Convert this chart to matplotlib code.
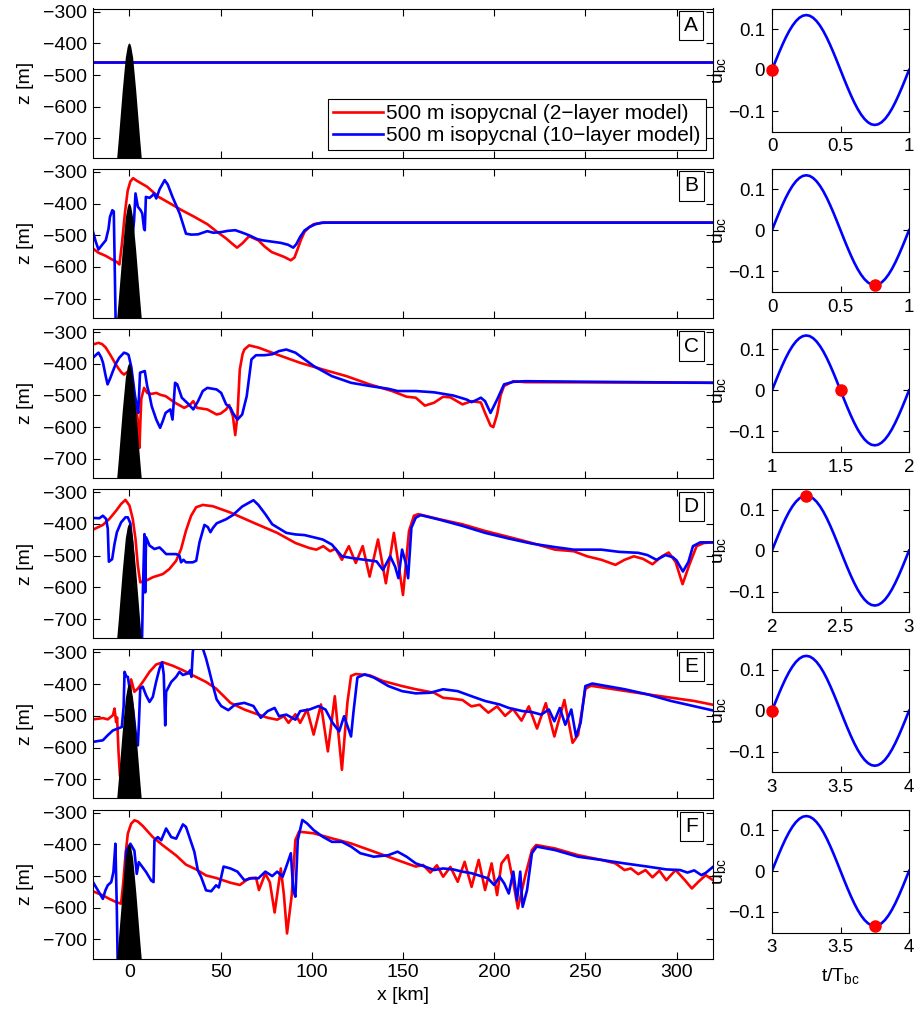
import numpy as np
import matplotlib
matplotlib.use("Agg")
import matplotlib.pyplot as plt

plt.rcParams['font.family'] = ['Liberation Sans', 'DejaVu Sans']
plt.rcParams['mathtext.fontset'] = 'custom'
plt.rcParams['mathtext.rm'] = 'Liberation Sans'

RED = '#ff0000'
BLUE = '#0000ff'

## ridge (topography) profile
ridge_x = [-8, -7.4, -6.7, -5.8, -5.1, -4.4, -3.7, -2.9, -2, -1, -0.5, 0,
           0.5, 1, 2, 2.9, 3.7, 4.4, 5.1, 5.8, 6.7, 7.4, 8]
ridge_z = [-820, -790, -760, -700, -650, -600, -550, -500, -445, -412, -403, -400,
           -403, -412, -445, -500, -550, -600, -650, -700, -760, -790, -820]

## panel A
a_red_x = [-20, 320]
a_red_z = [-460, -460]
a_blue_x = [-20, 320]
a_blue_z = [-460, -460]

## panel B
b_red_x = [-20, -17, -13, -10, -7, -5.5, -4, -2.5, -1, 0.5, 2, 4, 9.7, 16, 22.4, 28.7, 35,
           42.7, 48, 53, 56, 59, 62, 65.6, 70.7, 74, 78, 84.7, 88.5, 90.5, 92, 94, 96, 98.5,
           101, 105, 109, 320]
b_red_z = [-542, -555, -565, -575, -584, -592, -520, -430, -360, -330, -320, -328, -347, -379,
           -400, -421, -440, -465, -489, -510, -525, -539, -525, -503, -516, -535, -553, -568,
           -579, -570, -547, -515, -489, -475, -465, -461, -460, -460]
b_blue_x = [-20, -18.5, -17, -15, -13, -11.5, -10.7, -9.4, -8.6, -8.2, -7.8, -7.5, -4, 0, 2.5,
            3.3, 4.6, 6, 7, 8, 8.4, 9, 11, 12.5, 13.5, 14.7, 16.5, 19.3, 21, 23.6, 27.5, 31,
            34, 37.6, 42.7, 46, 50.3, 54, 58, 62, 65.6, 70, 73, 78, 83, 87, 89.8, 91.5, 93.6,
            96, 98.7, 102, 106, 320]
b_blue_z = [-489, -520, -545, -530, -516, -480, -442, -421, -425, -560, -700, -800, -800, -600,
            -455, -368, -410, -420, -431, -480, -484, -379, -382, -375, -368, -384, -355, -326,
            -340, -379, -431, -495, -498, -497, -487, -492, -490, -486, -484, -492, -500, -512,
            -516, -520, -524, -530, -539, -528, -505, -485, -474, -465, -460, -460]

## panel C
c_red_x = [-20, -17, -15, -13, -10.5, -8, -6, -4.3, -3, -1, 1, 3, 4.5, 5.5, 6, 6.5, 8, 9.7,
           12, 14.7, 17, 19.8, 25, 30, 33, 35, 37, 42.7, 47.8, 50, 53, 54.7, 55.4, 56.7, 58,
           59.2, 60.5, 62, 63, 65.6, 70.7, 81, 93.6, 106, 119, 131.7, 144, 152, 157, 162, 167,
           172, 176, 182.6, 187.6, 192.7, 195, 198, 199.5, 201.6, 203.5, 205.4, 210.5, 217, 320]
c_red_z = [-339, -334, -338, -349, -372, -397, -415, -428, -434, -425, -445, -520, -575, -665,
           -580, -510, -476, -492, -495, -492, -498, -502, -523, -539, -530, -518, -539, -544,
           -560, -557, -544, -530, -544, -565, -625, -565, -418, -370, -355, -342, -349, -371,
           -397, -418, -439, -465, -486, -504, -507, -532, -523, -504, -506, -528, -518, -522,
           -555, -595, -600, -560, -500, -470, -455, -458, -460]
c_blue_x = [-20, -18, -17, -15.5, -14.5, -13, -12, -10.5, -9.4, -7.5, -5.6, -3, -1.5, -0.5, 1,
            3, 4.3, 4.8, 5.4, 5.8, 8.4, 9.7, 11, 12.2, 14.7, 16.8, 18.3, 19.8, 22.4, 23.6, 24.3,
            25, 26.2, 28.7, 32.5, 35, 37.6, 40.2, 42.7, 47.8, 50.3, 53, 55.4, 56.7, 59.2, 61.8,
            64.3, 66.9, 69.4, 74, 78.3, 82, 86, 91, 101, 111, 121.5, 131.7, 142, 147, 157, 167,
            177.5, 185, 187.6, 190, 192.7, 195, 198, 201.6, 205.4, 210.5, 217, 320]
c_blue_z = [-381, -370, -365, -380, -397, -440, -465, -445, -428, -400, -381, -365, -368, -372,
            -410, -500, -540, -555, -480, -428, -423, -470, -500, -534, -576, -602, -580, -555,
            -544, -576, -520, -460, -465, -507, -528, -544, -518, -486, -476, -481, -492, -528,
            -539, -555, -576, -560, -502, -386, -373, -373, -370, -360, -355, -365, -407, -439,
            -460, -470, -479, -486, -486, -490, -500, -513, -521, -515, -507, -518, -555, -513,
            -465, -457, -455, -460]

## panel D
d_red_x = [-20, -14.6, -11, -7.3, -4.6, -2.2, 0, 1.8, 3.3, 4.6, 5.9, 9.1, 12.8, 18.3, 21.9,
           25.6, 28.3, 31, 33.8, 36.6, 40.2, 45.7, 55.4, 68, 81, 91, 98.7, 102.5, 106.3, 110,
           113, 116.5, 120.3, 124.1, 127.9, 131.7, 136.3, 140.6, 145, 150, 153.3, 156, 158.4,
           169.8, 182.6, 195, 208, 220.7, 233.4, 243.6, 251, 258.8, 266.5, 271.5, 276.6, 281.6,
           286.8, 292, 295.7, 299.5, 303.3, 307, 311, 315, 320]
d_red_z = [-418, -403, -384, -358, -337, -324, -342, -384, -447, -532, -584, -579, -568, -558,
           -542, -516, -479, -421, -374, -347, -340, -344, -364, -396, -428, -460, -476, -481,
           -470, -486, -478, -513, -470, -523, -470, -566, -449, -587, -428, -624, -422, -374,
           -369, -385, -401, -422, -441, -460, -481, -486, -502, -513, -529, -513, -502, -510,
           -527, -502, -490, -520, -590, -529, -470, -460, -458]
d_blue_x = [-20, -16.5, -14.6, -12.8, -11.9, -11.3, -9.5, -8.2, -6.9, -4.6, -2.2, -0.9, 0.5, 2,
            4, 6.8, 7.4, 8.2, 8.6, 9.1, 11, 13.7, 16.5, 18.3, 20.1, 25.6, 27.4, 28.3, 29.6, 31,
            34.7, 36.6, 38.4, 41.1, 43, 44.4, 45.7, 47.8, 53, 56.7, 61.8, 68, 70.7, 74.5, 78.3,
            86, 91, 96, 106, 111, 116.5, 121.5, 129, 135.5, 139, 143, 145.7, 147.5, 149.5, 151.5,
            152.8, 154.6, 157, 159.7, 169.8, 182.6, 195, 208, 220.7, 233.4, 243.6, 258.8, 268.6,
            279, 284, 289, 294, 298, 300, 303.5, 306.5, 309, 313, 320]
d_blue_z = [-381, -382, -374, -384, -415, -519, -511, -463, -426, -395, -379, -379, -398, -500,
            -800, -800, -600, -432, -616, -442, -468, -479, -474, -484, -495, -495, -500, -521,
            -513, -521, -521, -516, -458, -403, -410, -426, -413, -398, -385, -372, -345, -325,
            -340, -369, -401, -428, -433, -435, -449, -465, -502, -507, -513, -518, -545, -502,
            -535, -571, -481, -523, -571, -412, -380, -372, -386, -406, -428, -446, -462, -473,
            -481, -481, -488, -491, -498, -513, -498, -505, -515, -550, -520, -470, -458, -458]

## panel E
e_red_x = [-20, -14.6, -11.9, -9.1, -8.2, -7.3, -6.8, -6, -5.2, -2, 0, 0.9, 2.7, 4.6, 7.3, 11,
           14.6, 18.3, 23.8, 29.3, 34.7, 42, 47.5, 55.4, 63, 70.7, 75.8, 81, 84.7, 87.2, 91,
           93.6, 97.4, 101, 105, 108.8, 112.6, 116.5, 119.5, 121.5, 124, 131.7, 139, 149.5, 157,
           167, 172, 177.5, 182.6, 187.5, 192, 196.8, 201.6, 206, 210.3, 215, 219, 223.5, 228.3,
           233, 238.5, 243, 246, 248.5, 250, 253, 258.8, 284, 309.7, 320]
e_red_z = [-511, -507, -511, -498, -477, -520, -505, -614, -690, -600, -450, -385, -424, -414,
           -393, -361, -338, -331, -342, -356, -372, -393, -414, -459, -480, -496, -506, -512,
           -501, -522, -495, -522, -480, -559, -464, -612, -438, -670, -459, -374, -368, -372,
           -390, -406, -416, -427, -443, -446, -450, -470, -465, -490, -470, -500, -478, -515,
           -470, -540, -460, -565, -450, -585, -560, -470, -415, -405, -410, -432, -453, -465]
e_blue_x = [-20, -14.6, -11.9, -9.1, -6.4, -4.2, -3.2, -2.7, -1.8, -0.9, 0, 2, 3.5, 4.6, 5.2, 5.9,
            7.3, 9.1, 11, 12.8, 14.6, 16.5, 17.9, 18.8, 19.6, 20.1, 22.9, 25.6, 27.4, 29.3, 32,
            33.3, 34, 34.7, 36, 38, 40.2, 42, 43.9, 45.7, 47.8, 50.3, 54.2, 58, 63, 68, 72,
            75.8, 79.6, 82, 86, 91, 93.6, 98.7, 103.7, 107.5, 111.4, 115, 117.7, 121.5, 122.8,
            125, 129, 134, 142, 149.5, 157, 165, 172, 180, 187.6, 195, 203, 208, 215.6, 220.7,
            225.8, 230, 233, 236, 239, 242.3, 244.9, 247.4, 250, 253.8, 271.5, 284, 297, 320]
e_blue_z = [-582, -577, -561, -546, -540, -535, -470, -361, -375, -377, -410, -480, -560, -593,
            -520, -414, -408, -435, -456, -440, -393, -350, -331, -370, -530, -424, -393, -377,
            -361, -371, -366, -356, -377, -300, -250, -240, -287, -319, -361, -403, -448, -469,
            -482, -464, -459, -469, -506, -485, -475, -501, -496, -512, -485, -480, -469, -480,
            -522, -549, -501, -565, -490, -379, -369, -379, -406, -422, -429, -427, -416, -422,
            -438, -453, -464, -475, -485, -488, -496, -480, -517, -475, -528, -480, -565, -522,
            -406, -398, -416, -432, -453, -483]

## panel F
f_red_x = [-20, -14.6, -11, -7.3, -4.6, -3.4, -2.2, -0.9, 0.9, 2.7, 4.6, 7.3, 12.8, 18.3, 25.6,
           31, 36.6, 42, 47.5, 55.4, 60.5, 65.6, 69.4, 71, 74.5, 77, 79.6, 83, 84.7, 86.4, 89,
           91, 93, 101, 111, 121.5, 131.7, 144.3, 152, 157, 161, 165, 168.6, 172, 176, 180,
           183.8, 187.6, 191.5, 195, 198.6, 201.6, 204, 207.5, 210.5, 213, 217, 220.7, 223,
           233.4, 246, 258.8, 266.5, 271.5, 275, 279, 283, 286.8, 290.6, 294.4, 299.5, 304.6,
           308.4, 312, 316, 320]
f_red_z = [-548, -561, -572, -582, -587, -520, -435, -366, -335, -324, -328, -342, -377, -403,
           -435, -464, -479, -498, -506, -521, -528, -507, -505, -544, -492, -520, -615, -476,
           -560, -681, -560, -386, -360, -365, -381, -397, -418, -444, -460, -470, -465, -489,
           -466, -502, -471, -518, -455, -534, -449, -544, -460, -560, -460, -434, -520, -602,
           -500, -418, -402, -413, -434, -449, -460, -481, -476, -494, -481, -504, -483, -513,
           -481, -513, -539, -518, -497, -513]
f_blue_x = [-20, -16.5, -14.6, -13.2, -11.9, -10, -8.8, -7.7, -6.9, -6.4, -3, -1.8, 0.5, 2.7, 4,
            5.1, 6.4, 9.1, 11.9, 13.2, 13.7, 15.5, 17.4, 20.1, 22.9, 25.6, 29.3, 31, 33.8, 35.6,
            37.5, 39.3, 42, 44.8, 47.5, 49, 51.6, 55.4, 59.2, 63, 66.9, 70.7, 74.5, 78.3, 81, 84,
            86, 88.5, 89.8, 91, 92.3, 94.8, 97.4, 101, 106, 111, 116.5, 121.5, 126.6, 134, 142,
            147, 152, 157, 162, 167, 172, 177.5, 182.6, 187.6, 192.7, 196.5, 200, 203, 205.5,
            208, 210.5, 212.5, 214.3, 215.6, 218, 220.7, 223.3, 233.4, 246, 258.8, 271.5, 284,
            294.4, 302, 306, 309.7, 313.6, 316, 320]
f_blue_z = [-519, -553, -572, -545, -529, -519, -487, -398, -614, -800, -800, -420, -398, -420,
            -493, -456, -466, -487, -514, -519, -387, -377, -387, -350, -377, -382, -337, -345,
            -393, -424, -482, -503, -545, -548, -529, -536, -470, -476, -486, -513, -507, -507,
            -486, -500, -486, -502, -470, -428, -544, -565, -386, -323, -334, -355, -376, -392,
            -392, -407, -428, -439, -434, -423, -439, -460, -470, -481, -476, -479, -486, -491,
            -500, -507, -528, -502, -523, -555, -486, -576, -486, -597, -545, -428, -407, -418,
            -439, -449, -460, -470, -479, -481, -489, -482, -497, -490, -471]

panel_labels = ['A', 'B', 'C', 'D', 'E', 'F']
red_lines = [(a_red_x, a_red_z), (b_red_x, b_red_z), (c_red_x, c_red_z),
             (d_red_x, d_red_z), (e_red_x, e_red_z), (f_red_x, f_red_z)]
blue_lines = [(a_blue_x, a_blue_z), (b_blue_x, b_blue_z), (c_blue_x, c_blue_z),
              (d_blue_x, d_blue_z), (e_blue_x, e_blue_z), (f_blue_x, f_blue_z)]

## baroclinic forcing over one period
t_cycle = [0, 0.025, 0.05, 0.075, 0.1, 0.125, 0.15, 0.175, 0.2, 0.225, 0.25, 0.275, 0.3,
           0.325, 0.35, 0.375, 0.4, 0.425, 0.45, 0.475, 0.5, 0.525, 0.55, 0.575, 0.6, 0.625,
           0.65, 0.675, 0.7, 0.725, 0.75, 0.775, 0.8, 0.825, 0.85, 0.875, 0.9, 0.925, 0.95,
           0.975, 1.0]
u_cycle = [0, 0.0210, 0.0414, 0.0608, 0.0788, 0.0948, 0.1084, 0.1194, 0.1274, 0.1324, 0.1340,
           0.1324, 0.1274, 0.1194, 0.1084, 0.0948, 0.0788, 0.0608, 0.0414, 0.0210, 0,
           -0.0210, -0.0414, -0.0608, -0.0788, -0.0948, -0.1084, -0.1194, -0.1274, -0.1324,
           -0.1340, -0.1324, -0.1274, -0.1194, -0.1084, -0.0948, -0.0788, -0.0608, -0.0414,
           -0.0210, 0]
cycle_start = [0, 0, 1, 2, 3, 3]
dot_t = [0, 0.75, 1.5, 2.25, 3.0, 3.75]
dot_u = [0, -0.134, 0, 0.134, 0, -0.134]

fig = plt.figure(figsize=(9.17, 10.15), dpi=100)
W, H = 917.0, 1015.0
FS = 14

for i in range(6):
    top = 8.5 + 160.2 * i
    ax = fig.add_axes([93 / W, 1 - (top + 149) / H, 620 / W, 149 / H])
    rx, rz = red_lines[i]
    bx, bz = blue_lines[i]
    ax.plot(rx, rz, color=RED, lw=1.9, zorder=2, label='500 m isopycnal (2\u2212layer model)')
    ax.plot(bx, bz, color=BLUE, lw=1.9, zorder=2.1, label='500 m isopycnal (10\u2212layer model)')
    ax.fill(ridge_x, ridge_z, color='black', lw=0, zorder=3)
    ax.set_xlim(-20, 320)
    ax.set_ylim(-760, -290)
    ax.set_xticks(np.arange(0, 301, 50))
    ax.set_yticks([-700, -600, -500, -400, -300])
    ax.tick_params(direction='in', top=True, right=True, length=5, labelsize=FS, width=0.8,
                   pad=4)
    ax.set_ylabel('z [m]', fontsize=FS, labelpad=7)
    for s in ax.spines.values():
        s.set_linewidth(0.8)
    if i < 5:
        ax.set_xticklabels([])
    else:
        ax.set_xlabel('x [km]', fontsize=FS, labelpad=4)
    ax.text(0.965, 0.885, panel_labels[i], transform=ax.transAxes, ha='center', va='center',
            fontsize=15, zorder=5,
            bbox=dict(boxstyle='square,pad=0.25', fc='white', ec='black', lw=0.8))
    if i == 0:
        leg = ax.legend(loc='lower right', fontsize=15, fancybox=False, edgecolor='black',
                        framealpha=1, borderaxespad=0.35, handlelength=2.4, borderpad=0.25,
                        labelspacing=0.15, handletextpad=0.15)
        leg.get_frame().set_linewidth(0.8)
        leg.set_zorder(6)

    axr = fig.add_axes([772 / W, 1 - (top + 123) / H, 137 / W, 123 / H])
    t0 = cycle_start[i]
    axr.plot([t0 + t for t in t_cycle], u_cycle, color=BLUE, lw=1.9)
    axr.plot(dot_t[i], dot_u[i], 'o', color=RED, ms=8, clip_on=False, zorder=4)
    axr.set_xlim(t0, t0 + 1)
    axr.set_ylim(-0.15, 0.15)
    axr.set_xticks([t0, t0 + 0.5, t0 + 1])
    axr.set_xticklabels(['%g' % t0, '%g' % (t0 + 0.5), '%g' % (t0 + 1)])
    axr.set_yticks([-0.1, 0, 0.1])
    axr.set_yticklabels(['\u22120.1', '0', '0.1'])
    axr.tick_params(direction='in', top=True, right=True, length=4, labelsize=13.5, width=0.8,
                    pad=5)
    for s in axr.spines.values():
        s.set_linewidth(0.8)
    axr.set_ylabel(r'$\mathregular{u_{bc}}$', fontsize=FS, labelpad=0)
    if i == 5:
        axr.set_xlabel(r'$\mathregular{t/T_{bc}}$', fontsize=FS, labelpad=7)

fig.savefig('out.png', dpi=100)
